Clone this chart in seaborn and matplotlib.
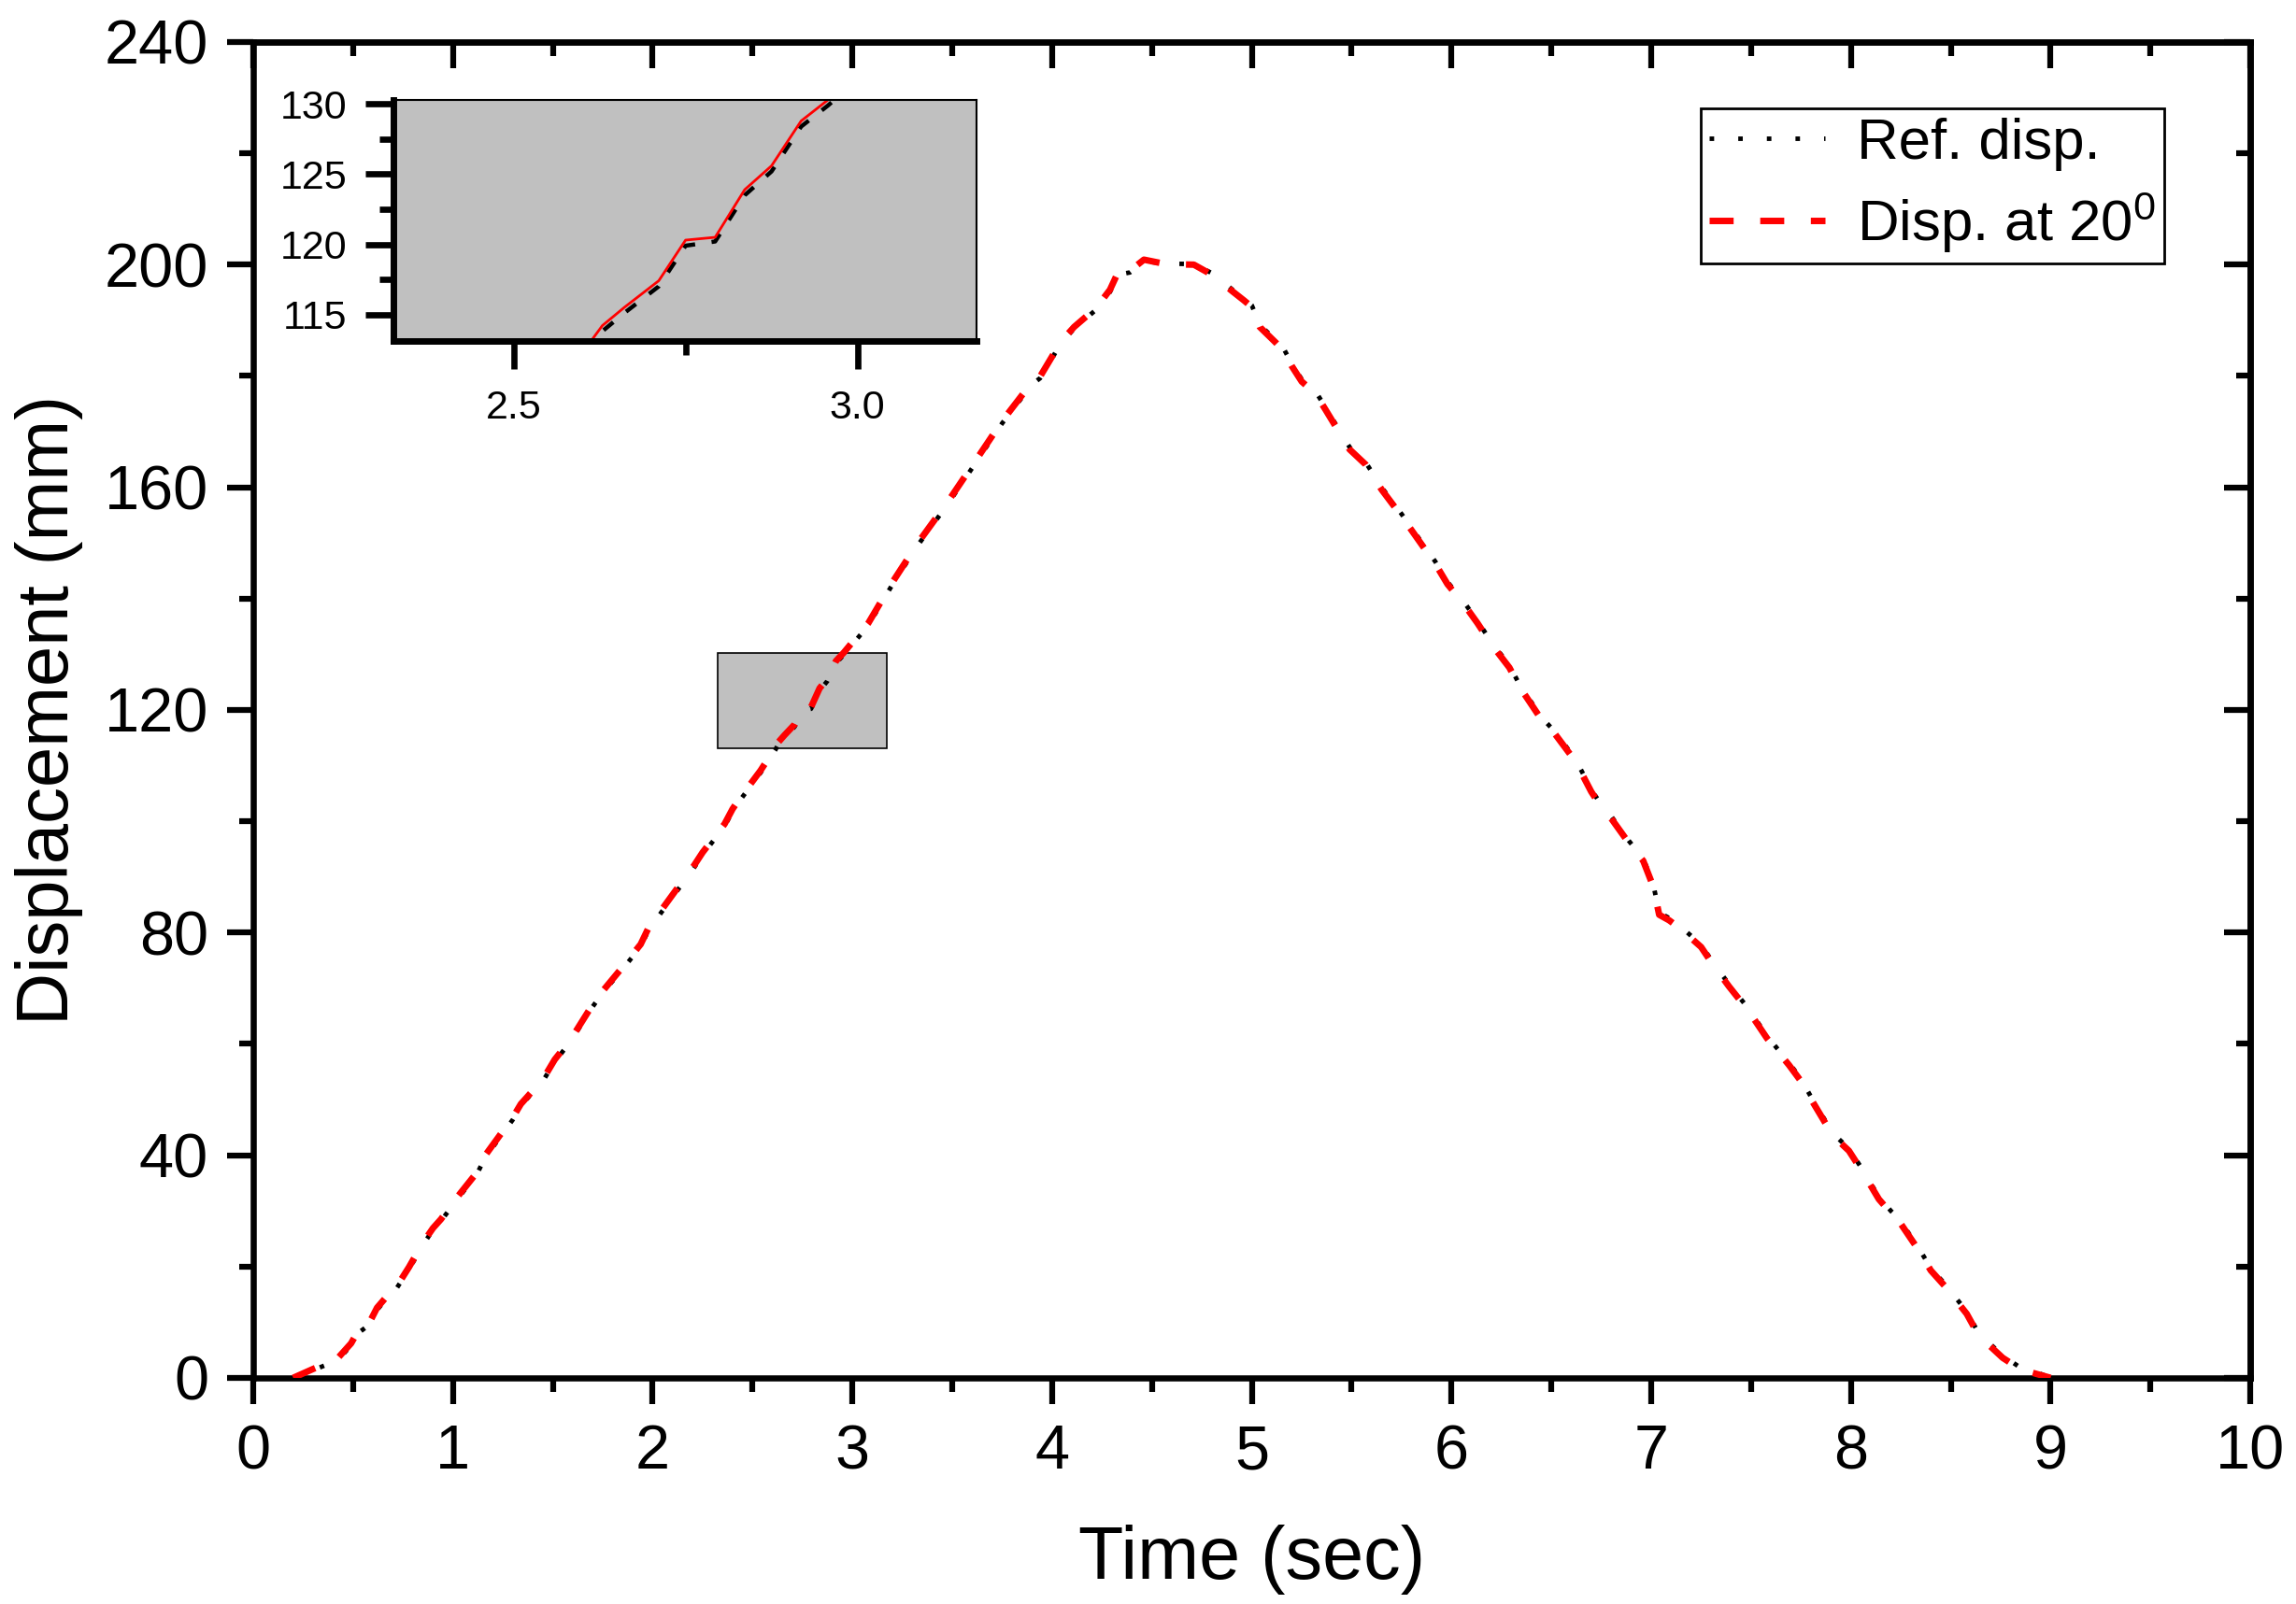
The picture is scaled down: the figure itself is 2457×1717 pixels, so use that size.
import numpy as np
import pandas as pd
import seaborn as sns
import matplotlib
matplotlib.use("Agg")
import matplotlib.pyplot as plt
from matplotlib.patches import Rectangle
from matplotlib.ticker import MultipleLocator, FormatStrFormatter

# values
time_s = [0.20, 0.30, 0.42, 0.49, 0.52, 0.58, 0.62, 0.68, 0.72, 0.78,
          0.85, 0.90, 0.94, 1.02, 1.12, 1.16, 1.30, 1.34, 1.45, 1.51,
          1.59, 1.70, 1.75, 1.84, 1.94, 1.98, 2.12, 2.19, 2.25, 2.36,
          2.40, 2.44, 2.54, 2.614, 2.629, 2.661, 2.711, 2.750, 2.793, 2.836,
          2.875, 2.918, 2.957, 3.08, 3.20, 3.33, 3.48, 3.61, 3.75, 3.90,
          3.94, 4.01, 4.04, 4.11, 4.22, 4.29, 4.33, 4.39, 4.46, 4.57,
          4.71, 4.81, 4.90, 4.96, 5.00, 5.04, 5.12, 5.16, 5.20, 5.25,
          5.32, 5.37, 5.49, 5.57, 5.65, 5.74, 5.79, 5.92, 5.98, 6.06,
          6.13, 6.20, 6.29, 6.34, 6.45, 6.52, 6.62, 6.70, 6.74, 6.78,
          6.89, 6.96, 7.01, 7.04, 7.09, 7.15, 7.25, 7.31, 7.39, 7.49,
          7.58, 7.69, 7.75, 7.80, 7.91, 7.99, 8.06, 8.14, 8.20, 8.24,
          8.34, 8.40, 8.47, 8.58, 8.64, 8.76, 8.85, 8.95, 9.00]

ref_disp = [0.0, 1.4, 3.1, 5.8, 7.9, 9.5, 12.2, 14.8, 16.2, 19.5,
            23.9, 26.6, 28.2, 32.0, 36.6, 39.5, 46.4, 48.9, 53.3, 56.8,
            60.5, 66.7, 69.2, 73.0, 77.5, 80.5, 87.4, 90.7, 94.0, 99.1,
            101.8, 103.9, 108.7, 112.8, 113.8, 115.1, 117.0, 119.9, 120.2, 123.5,
            125.2, 128.4, 129.9, 135.2, 142.5, 149.7, 157.1, 164.0, 171.5, 178.5,
            179.6, 183.8, 185.7, 188.5, 191.9, 195.1, 198.2, 198.6, 200.6, 200.2,
            200.1, 198.3, 195.6, 193.9, 192.7, 189.2, 186.4, 184.9, 182.2, 179.4,
            177.2, 174.3, 167.2, 164.5, 160.0, 155.7, 153.2, 146.6, 143.0, 139.5,
            136.0, 132.2, 128.0, 124.6, 118.7, 116.0, 111.2, 105.7, 103.5, 101.9,
            96.4, 93.3, 88.7, 83.6, 82.6, 81.0, 77.8, 74.6, 70.7, 66.2,
            61.4, 56.6, 53.7, 50.5, 43.9, 41.2, 37.3, 32.5, 30.0, 28.6,
            23.3, 19.7, 16.9, 11.9, 8.0, 4.0, 1.8, 0.7, 0.0]

disp_20 = [0.0, 1.6, 3.4, 6.2, 8.1, 9.8, 12.6, 15.1, 16.5, 19.9,
           24.3, 26.9, 28.5, 32.4, 36.9, 39.9, 46.8, 49.2, 53.6, 57.2,
           60.8, 67.1, 69.5, 73.4, 77.9, 80.9, 87.8, 91.1, 94.4, 99.5,
           102.2, 104.3, 109.1, 113.2, 114.2, 115.5, 117.4, 120.3, 120.5, 123.9,
           125.6, 128.8, 130.3, 135.6, 142.9, 150.1, 157.5, 164.4, 171.9, 178.9,
           179.9, 184.1, 186.0, 188.8, 192.2, 195.5, 198.6, 198.9, 200.9, 200.1,
           200.0, 198.0, 195.3, 193.6, 192.4, 188.8, 186.0, 184.5, 181.8, 179.0,
           176.8, 173.9, 166.8, 164.1, 159.6, 155.3, 152.8, 146.2, 142.6, 139.1,
           135.6, 131.8, 127.6, 124.2, 118.3, 115.6, 110.8, 105.3, 103.1, 101.5,
           96.0, 92.9, 88.3, 83.2, 82.2, 80.6, 77.4, 74.2, 70.3, 65.8,
           61.0, 56.2, 53.3, 50.1, 43.5, 40.8, 36.9, 32.1, 29.6, 28.2,
           22.9, 19.3, 16.5, 11.5, 7.6, 3.6, 1.5, 0.5, 0.0]

series_labels = ["Ref. disp.", "Disp. at 20$^0$"]
x_label = "Time (sec)"
y_label = "Displacement (mm)"
inset_xlim = (2.325, 3.173)
inset_ylim = (113.1, 130.3)

sns.set_theme(style="ticks", rc={"axes.edgecolor": "black", "xtick.color": "black",
                                 "ytick.color": "black", "text.color": "black",
                                 "axes.labelcolor": "black"})
plt.rcParams["font.family"] = ["Liberation Sans", "DejaVu Sans"]
plt.rcParams["mathtext.default"] = "regular"

df = pd.DataFrame({"time": time_s, "ref": ref_disp, "disp20": disp_20})

fig = plt.figure(figsize=(24.57, 17.17), dpi=100)
ax = fig.add_axes([0.1103, 0.1410, 0.8698, 0.8328])

# zoom box drawn under the curves
ax.add_patch(Rectangle((inset_xlim[0], inset_ylim[0]), inset_xlim[1] - inset_xlim[0],
                       inset_ylim[1] - inset_ylim[0], facecolor="#C0C0C0",
                       edgecolor="black", lw=1.2, zorder=1))

sns.lineplot(data=df, x="time", y="ref", ax=ax, color="black", lw=3.5,
             linestyle=(0, (1, 5.3)), label=series_labels[0], zorder=3)
sns.lineplot(data=df, x="time", y="disp20", ax=ax, color="red", lw=5,
             linestyle=(0, (3.7, 4.1)), label=series_labels[1], zorder=4)

ax.set_xlim(0, 10)
ax.set_ylim(0, 240)
ax.xaxis.set_major_locator(MultipleLocator(1))
ax.xaxis.set_minor_locator(MultipleLocator(0.5))
ax.yaxis.set_major_locator(MultipleLocator(40))
ax.yaxis.set_minor_locator(MultipleLocator(20))
ax.tick_params(which="both", direction="out", width=4.5, labelsize=48,
               top=False, right=False)
ax.tick_params(which="major", length=20.5)
ax.tick_params(which="minor", length=10.5)
ax.tick_params(axis="x", pad=15)
ax.tick_params(axis="y", pad=14)
for s in ax.spines.values():
    s.set_linewidth(4.7)
    s.set_visible(True)

# inward ticks on top and right
secx = ax.secondary_xaxis("top")
secx.xaxis.set_major_locator(MultipleLocator(1))
secx.xaxis.set_minor_locator(MultipleLocator(0.5))
secx.tick_params(which="both", direction="in", width=4.5, labeltop=False)
secx.tick_params(which="major", length=20.5)
secx.tick_params(which="minor", length=10.5)
secx.spines["top"].set_linewidth(4.7)
secy = ax.secondary_yaxis("right")
secy.yaxis.set_major_locator(MultipleLocator(40))
secy.yaxis.set_minor_locator(MultipleLocator(20))
secy.tick_params(which="both", direction="in", width=4.5, labelright=False)
secy.tick_params(which="major", length=20.5)
secy.tick_params(which="minor", length=10.5)
secy.spines["right"].set_linewidth(4.7)

ax.set_xlabel(x_label, fontsize=57, labelpad=33)
ax.set_ylabel(y_label, fontsize=56, labelpad=16)

leg = ax.legend(loc="upper right", bbox_to_anchor=(0.957, 0.950), borderaxespad=0,
                fontsize=44.5, frameon=True, fancybox=False, edgecolor="black",
                framealpha=1, handlelength=2.0, handletextpad=0.55,
                borderpad=0.15, labelspacing=0.33)
leg.get_frame().set_linewidth(2)

# inset
axin = fig.add_axes([0.1713, 0.7874, 0.2540, 0.1503])
axin.set_facecolor("#C0C0C0")
sns.lineplot(data=df, x="time", y="ref", ax=axin, color="black", lw=3.2,
             linestyle=(0, (3, 4)), legend=False)
sns.lineplot(data=df, x="time", y="disp20", ax=axin, color="red", lw=2,
             legend=False)
axin.set_xlim(*inset_xlim)
axin.set_ylim(*inset_ylim)
axin.set_xlabel("")
axin.set_ylabel("")
axin.xaxis.set_major_locator(MultipleLocator(0.5))
axin.xaxis.set_minor_locator(MultipleLocator(0.25))
axin.yaxis.set_major_locator(MultipleLocator(5))
axin.yaxis.set_minor_locator(MultipleLocator(2.5))
axin.xaxis.set_major_formatter(FormatStrFormatter("%.1f"))
axin.yaxis.set_major_formatter(FormatStrFormatter("%d"))
axin.tick_params(which="both", direction="out", width=4.8, labelsize=31,
                 top=False, right=False)
axin.tick_params(which="major", length=21.6)
axin.tick_params(which="minor", length=11)
axin.tick_params(axis="x", pad=16)
axin.tick_params(axis="y", pad=14)
for side in ["left", "bottom"]:
    axin.spines[side].set_linewidth(5)
for side in ["top", "right"]:
    axin.spines[side].set_linewidth(1.5)
    axin.spines[side].set_visible(True)

fig.savefig("out.png", dpi=100)
